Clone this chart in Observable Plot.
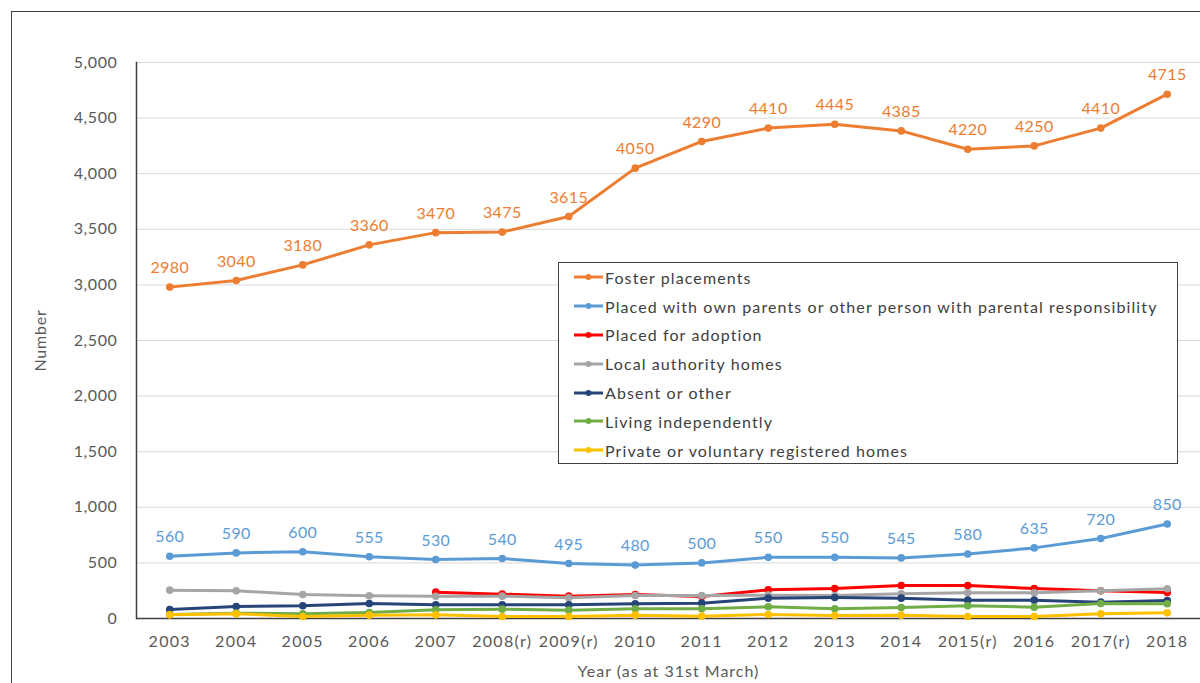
<!DOCTYPE html>
<html>
<head>
<meta charset="utf-8">
<script src="https://cdn.jsdelivr.net/npm/d3@7"></script>
<script src="https://cdn.jsdelivr.net/npm/@observablehq/plot@0.6"></script>
<style>
  html, body { margin: 0; padding: 0; background: #fff; overflow: hidden; }
  #wrap { position: relative; width: 1200px; height: 683px; font-family: Lato, sans-serif; }
  #border { position: absolute; left: 11px; top: 11px; width: 1300px; height: 800px; border: 1.5px solid #404040; box-sizing: border-box; }
  #chart { position: absolute; left: 0; top: 0; }
  #legend { position: absolute; left: 558px; top: 262px; width: 620px; height: 202px; box-sizing: border-box;
            border: 1px solid #404040; background: #fff; padding-top: 0px; }
  .item { display: flex; align-items: center; height: 28.8px; font-size: 16px; color: #404040; letter-spacing: 1.1px; }
  .item svg { margin-left: 15px; margin-right: 2px; }
  #chart [aria-label="x-axis tick label"] text { letter-spacing: 1.3px; }
  #chart [aria-label="x-axis label"] text { letter-spacing: 1px; }
  #chart [aria-label="y-axis tick label"] text { letter-spacing: 0.6px; }
  #chart [aria-label="y-axis label"] text { letter-spacing: 0.8px; }
  #chart [aria-label="text"] text { letter-spacing: 0.4px; }
</style>
</head>
<body>
<div id="wrap">
  <div id="border"></div>
  <div id="chart"></div>
  <div id="legend"></div>
</div>
<script>
const years = ["2003","2004","2005","2006","2007","2008(r)","2009(r)","2010","2011","2012","2013","2014","2015(r)","2016","2017(r)","2018"];
const seriesNames = ["Foster placements","Placed with own parents or other person with parental responsibility","Placed for adoption","Local authority homes","Absent or other","Living independently","Private or voluntary registered homes"];
const seriesColors = ["#ED7D31","#5B9BD5","#FF0000","#A5A5A5","#264478","#70AD47","#FFC000"];
const foster = [2980,3040,3180,3360,3470,3475,3615,4050,4290,4410,4445,4385,4220,4250,4410,4715];
const parents = [560,590,600,555,530,540,495,480,500,550,550,545,580,635,720,850];
const adoption = [null,null,null,null,237,219,201,216,198,258,270,297,297,270,249,234];
const laHomes = [255,249,216,204,200,201,186,207,207,210,207,222,231,231,249,267];
const absent = [81,108,114,135,123,123,123,132,138,183,189,183,165,165,147,162];
const living = [36,48,42,54,78,84,75,87,87,105,87,99,114,102,135,132];
const privateHomes = [33,42,18,30,33,18,18,30,21,36,27,30,18,18,42,51];
const allValues = [foster, parents, adoption, laHomes, absent, living, privateHomes];
const yTicks = d3.range(0, 5001, 500);

const rows = [];
seriesNames.forEach((name, i) => {
  allValues[i].forEach((v, j) => { if (v != null) rows.push({series: name, year: years[j], value: v}); });
});

const font = "Lato, sans-serif";
const marks = [
  Plot.gridY(yTicks, {stroke: "#d9d9d9", strokeOpacity: 1, strokeWidth: 1}),
  Plot.axisY(yTicks, {tickSize: 0, tickPadding: 19, tickFormat: d3.format(","), fontSize: 16, fill: "#595959",
    label: "Number", labelAnchor: "center", labelOffset: 102, labelArrow: false}),
  Plot.axisX({tickSize: 0, tickPadding: 17, fontSize: 16, fill: "#595959",
    label: "Year (as at 31st March)", labelAnchor: "center", labelOffset: 58, labelArrow: false}),
  Plot.ruleY([0], {stroke: "#404040", strokeWidth: 1.5}),
  Plot.frame({anchor: "left", stroke: "#404040", strokeWidth: 1.5})
];
seriesNames.forEach((name, i) => {
  const data = rows.filter(r => r.series === name);
  marks.push(Plot.line(data, {x: "year", y: "value", stroke: "series", strokeWidth: 3}));
  marks.push(Plot.dot(data, {x: "year", y: "value", fill: "series", r: 3.8}));
});
marks.push(Plot.text(rows.filter(r => r.series === seriesNames[0] || r.series === seriesNames[1]),
  {x: "year", y: "value", text: d => String(d.value), fill: "series", dy: -19, fontSize: 16}));

const chart = Plot.plot({
  width: 1200, height: 683,
  marginLeft: 136, marginRight: 0, marginTop: 62, marginBottom: 65,
  style: {fontFamily: font, fontSize: "16px", color: "#595959", background: "transparent"},
  x: {type: "point", domain: years, padding: 0.5, round: false},
  y: {domain: [0, 5000]},
  color: {domain: seriesNames, range: seriesColors},
  marks
});
document.getElementById("chart").appendChild(chart);

const legend = document.getElementById("legend");
seriesNames.forEach((name, i) => {
  const div = document.createElement("div");
  div.className = "item";
  div.innerHTML = `<svg width="29" height="10"><line x1="0" x2="29" y1="5" y2="5" stroke="${seriesColors[i]}" stroke-width="3"/><circle cx="14.5" cy="5" r="3" fill="${seriesColors[i]}"/></svg><span>${name}</span>`;
  legend.appendChild(div);
});
</script>
</body>
</html>
